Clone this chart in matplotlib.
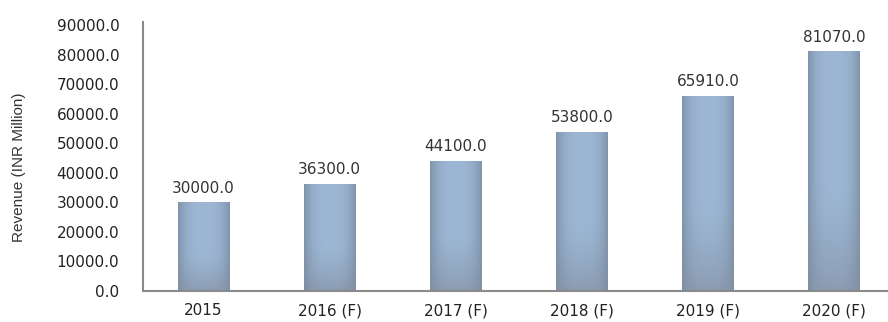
import numpy as np
import matplotlib.pyplot as plt
from matplotlib import font_manager

years = ["2015", "2016 (F)", "2017 (F)", "2018 (F)", "2019 (F)", "2020 (F)"]
revenue = [30000.0, 36300.0, 44100.0, 53800.0, 65910.0, 81070.0]
y_ticks = [0, 10000, 20000, 30000, 40000, 50000, 60000, 70000, 80000, 90000]
y_label = "Revenue (INR Million)"

plt.rcParams['font.family'] = ['DejaVu Sans']

narrow = 'Liberation Sans Narrow'
try:
    font_manager.findfont(narrow, fallback_to_default=False)
except ValueError:
    narrow = 'Liberation Sans'

fig = plt.figure(figsize=(8.88, 3.22), dpi=100)
ax = fig.add_axes([0.161, 0.0963, 0.845, 0.835])

x = np.arange(len(years))
bar_w = 0.41
bars = ax.bar(x, revenue, width=bar_w, color='none', edgecolor='none', zorder=2)

# shaded fill: lighter centre, darker sides and bottom
edge = np.array([0x80, 0x93, 0xab]) / 255
mid = np.array([0x9c, 0xb6, 0xd3]) / 255
bottom = np.array([0x7f, 0x8b, 0x9c]) / 255
u = np.linspace(-1, 1, 120)
hprof = 1 - np.abs(u) ** 3
for b in bars:
    h = b.get_height()
    v = np.linspace(0, 1, 200)[:, None]  # 0 = bottom, 1 = top
    row = edge + (mid - edge) * hprof[:, None]
    img = row[None, :, :] * np.ones((200, 1, 1))
    shade = (np.clip((0.45 - v) / 0.45, 0, 1) ** 1.5)[:, :, None] * 0.6
    img = img * (1 - shade) + bottom * shade
    im = ax.imshow(img, extent=[b.get_x(), b.get_x() + bar_w, 0, h],
                   origin='lower', aspect='auto', zorder=2, interpolation='bilinear')
    im.set_clip_path(b)
    ax.text(b.get_x() + bar_w / 2, h + 2300, f"{h:.1f}", ha='center', va='bottom',
            fontsize=11, color='#333333')

ax.set_xlim(-0.48, 5.47)
ax.set_ylim(0, 91000)
ax.set_yticks(y_ticks)
ax.set_yticklabels([f"{t:.1f}" for t in y_ticks], fontsize=11, color='#222222')
ax.set_xticks(x)
ax.set_xticklabels(years, fontsize=11, color='#222222')
ax.tick_params(axis='both', length=0)
ax.tick_params(axis='y', pad=17)
ax.tick_params(axis='x', pad=9)

for side in ('top', 'right'):
    ax.spines[side].set_visible(False)
for side in ('left', 'bottom'):
    ax.spines[side].set_color('#8a8a8a')
    ax.spines[side].set_linewidth(1.5)

fig.text(0.021, 0.48, y_label, rotation=90, ha='center', va='center',
         fontsize=11, family=narrow, color='#333333')

fig.savefig('out.png', dpi=100)
